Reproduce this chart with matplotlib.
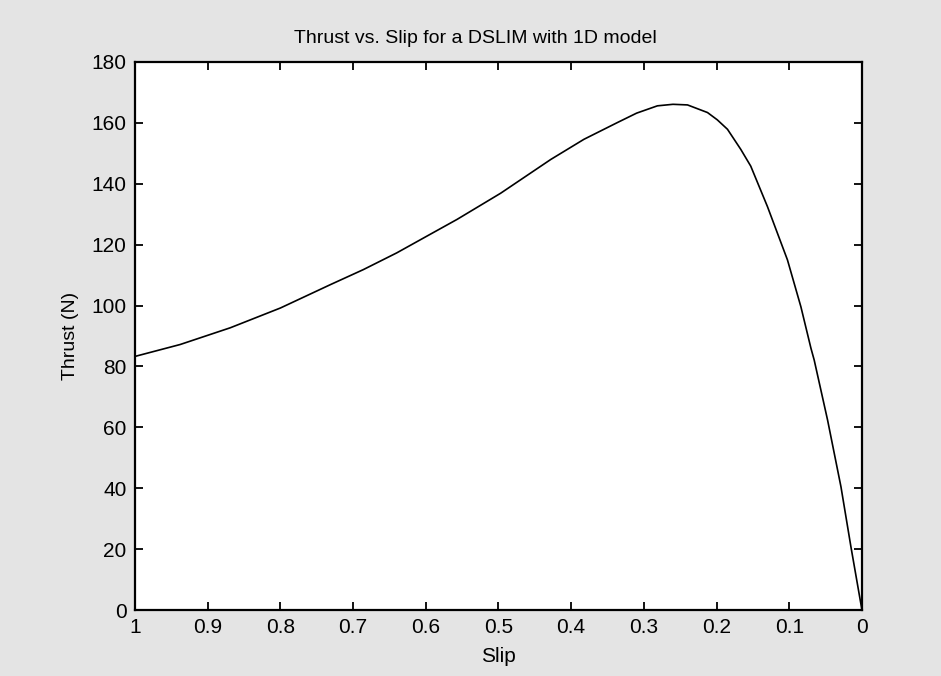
import matplotlib
matplotlib.use('Agg')
import matplotlib.pyplot as plt

# values
slip = [1.0, 0.938, 0.869, 0.80, 0.731, 0.686, 0.64, 0.594, 0.557, 0.497,
        0.428, 0.3825, 0.3365, 0.31, 0.2814, 0.26, 0.240, 0.2125, 0.199, 0.185,
        0.1667, 0.153, 0.130, 0.1025, 0.084, 0.0702, 0.0657, 0.0473, 0.0289, 0.0152, 0.0]
thrust = [83.3, 87.2, 92.7, 99.2, 106.9, 111.8, 117.3, 123.4, 128.3, 136.9,
          148.0, 154.6, 160.1, 163.2, 165.6, 166.1, 165.9, 163.4, 161.0, 157.9,
          151.3, 145.8, 132.5, 115.0, 99.6, 86.0, 82.1, 62.4, 40.5, 20.8, 0.0]

xticks = [1, 0.9, 0.8, 0.7, 0.6, 0.5, 0.4, 0.3, 0.2, 0.1, 0]
xtick_labels = ['1', '0.9', '0.8', '0.7', '0.6', '0.5', '0.4', '0.3', '0.2', '0.1', '0']
yticks = [0, 20, 40, 60, 80, 100, 120, 140, 160, 180]

plt.rcParams['font.family'] = ['Liberation Sans', 'DejaVu Sans']

fig = plt.figure(figsize=(9.41, 6.76), dpi=100, facecolor='#e4e4e4')
ax = fig.add_axes([0.1435, 0.0976, 0.7725, 0.8107])
ax.set_facecolor('white')

ax.plot(slip, thrust, color='black', linewidth=1.2)

ax.set_xlim(1, 0)
ax.set_ylim(0, 180)
ax.set_xticks(xticks)
ax.set_xticklabels(xtick_labels)
ax.set_yticks(yticks)
ax.tick_params(direction='in', top=True, right=True, length=6, width=1.3,
               labelsize=15, pad=6)
for s in ax.spines.values():
    s.set_linewidth(1.6)

ax.set_xlabel('Slip', fontsize=15, labelpad=7)
ax.set_ylabel('Thrust (N)', fontsize=14, labelpad=9)
ax.text(0.468, 1.027, 'Thrust vs. Slip for a DSLIM with 1D model', transform=ax.transAxes,
        ha='center', va='bottom', fontsize=14)

fig.savefig('out.png', dpi=100, facecolor=fig.get_facecolor())
